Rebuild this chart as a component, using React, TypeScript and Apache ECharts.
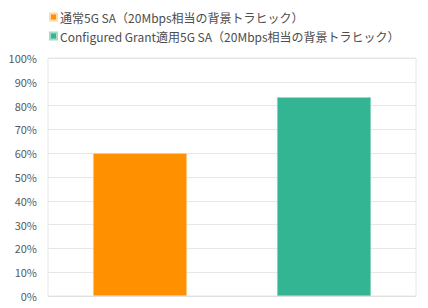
import React, { useEffect, useRef } from "react";
import * as echarts from "echarts";

const categories = ["a", "b"];
const seriesNames = [
  "通常5G SA（20Mbps相当の背景トラヒック）",
  "Configured Grant適用5G SA（20Mbps相当の背景トラヒック）",
];
const normalValues: (number | string)[] = [60, "-"];
const cgValues: (number | string)[] = ["-", 83.5];
const colors = ["#FF9100", "#33B593"];

export default function App() {
  const ref = useRef<HTMLDivElement>(null);
  useEffect(() => {
    const chart = echarts.init(ref.current!, null, { renderer: "svg" });
    chart.setOption({
      animation: false,
      textStyle: { fontFamily: "'Noto Sans CJK JP', 'Noto Sans', sans-serif" },
      legend: {
        orient: "vertical",
        left: 44,
        top: 6,
        itemWidth: 7,
        itemHeight: 7,
        itemGap: 7,
        icon: "rect",
        textStyle: { fontSize: 12, color: "#4d4d4d", padding: [0, 0, 0, -2] },
        data: seriesNames,
      },
      grid: {
        left: 48,
        right: 12,
        top: 58,
        bottom: 12,
        show: true,
        borderColor: "#e6e6e6",
        borderWidth: 1,
      },
      xAxis: {
        type: "category",
        data: categories,
        axisLabel: { show: false },
        axisTick: { show: false },
        axisLine: { lineStyle: { color: "#e0e0e0" } },
      },
      yAxis: {
        type: "value",
        min: 0,
        max: 100,
        interval: 10,
        axisLabel: {
          formatter: "{value}%",
          color: "#595959",
          fontSize: 11,
          margin: 11,
        },
        splitLine: { lineStyle: { color: "#e6e6e6" } },
        axisLine: { show: false },
        axisTick: { show: false },
      },
      series: [
        {
          name: seriesNames[0],
          type: "bar",
          stack: "s",
          data: normalValues,
          barWidth: "51%",
          itemStyle: { color: colors[0], borderColor: "#ffd9a8", borderWidth: 0.5 },
        },
        {
          name: seriesNames[1],
          type: "bar",
          stack: "s",
          data: cgValues,
          barWidth: "51%",
          itemStyle: { color: colors[1], borderColor: "#9fdcc9", borderWidth: 0.5 },
        },
      ],
    });
    return () => chart.dispose();
  }, []);
  return (
    <div
      ref={ref}
      style={{ position: "absolute", left: 0, top: 0, width: 428, height: 308 }}
    />
  );
}
